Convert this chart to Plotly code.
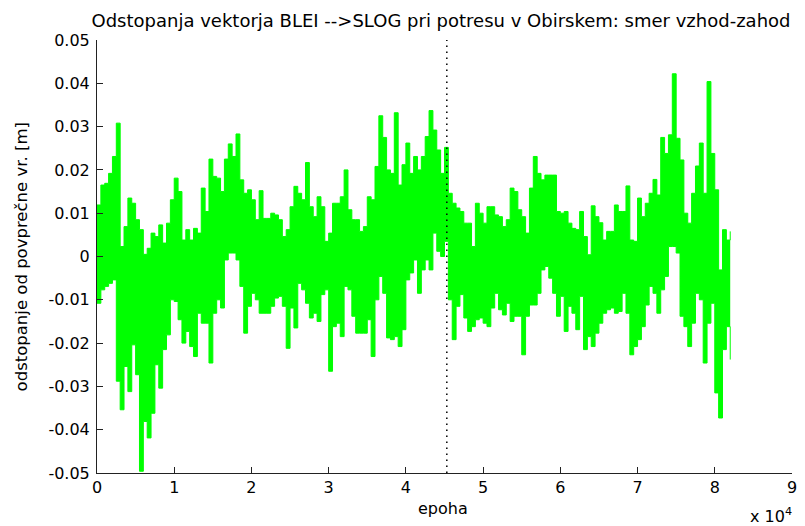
import plotly.graph_objects as go

# epoch grid of the envelope readings (step 500 epochs)
epoha = list(range(0, 82001, 500))

# upper edge of the green band [m], one value per 500 epochs
zgornja = [
    0.0119, 0.0165, 0.0169, 0.0192, 0.0231, 0.0308, 0.0023, 0.0069, 0.0135, 0.0123,
    0.0085, 0.0062, 0.0005, 0.0019, 0.0054, 0.0046, 0.0073, 0.0031, 0.0077, 0.0131,
    0.0181, 0.0150, 0.0038, 0.0062, 0.0038, 0.0065, 0.0054, 0.0158, 0.0104, 0.0225,
    0.0185, 0.0181, 0.0150, 0.0225, 0.0260, 0.0231, 0.0283, 0.0177, 0.0146, 0.0154,
    0.0131, 0.0085, 0.0152, 0.0088, 0.0088, 0.0100, 0.0096, 0.0085, 0.0046, 0.0062,
    0.0115, 0.0162, 0.0146, 0.0131, 0.0217, 0.0115, 0.0092, 0.0138, 0.0115, 0.0035,
    0.0054, 0.0123, 0.0123, 0.0138, 0.0200, 0.0108, 0.0085, 0.0085, 0.0058, 0.0069,
    0.0138, 0.0131, 0.0208, 0.0325, 0.0275, 0.0200, 0.0192, 0.0332, 0.0165, 0.0212,
    0.0262, 0.0192, 0.0231, 0.0200, 0.0231, 0.0277, 0.0337, 0.0292, 0.0246, 0.0192,
    0.0252, 0.0146, 0.0123, 0.0112, 0.0104, 0.0077, 0.0077, 0.0023, 0.0123, 0.0100,
    0.0077, 0.0115, 0.0115, 0.0096, 0.0092, 0.0069, 0.0085, 0.0158, 0.0150, 0.0108,
    0.0092, 0.0054, 0.0158, 0.0231, 0.0192, 0.0177, 0.0188, 0.0188, 0.0188, 0.0104,
    0.0100, 0.0104, 0.0077, 0.0065, 0.0062, 0.0104, 0.0046, 0.0004, 0.0117, 0.0092,
    0.0078, 0.0038, 0.0058, 0.0058, 0.0119, 0.0104, 0.0104, 0.0163, 0.0038, 0.0035,
    0.0135, 0.0092, 0.0123, 0.0146, 0.0178, 0.0142, 0.0275, 0.0238, 0.0281, 0.0422,
    0.0273, 0.0223, 0.0100, 0.0077, 0.0146, 0.0209, 0.0262, 0.0146, 0.0404, 0.0238,
    0.0154, -0.0031, 0.0062, 0.0038, 0.0058,
]

# lower edge of the green band [m]
spodnja = [
    -0.0108, -0.0077, -0.0069, -0.0062, -0.0054, -0.0288, -0.0354, -0.0254, -0.0312, -0.0204,
    -0.0273, -0.0496, -0.0381, -0.0419, -0.0362, -0.0250, -0.0304, -0.0215, -0.0181, -0.0100,
    -0.0104, -0.0146, -0.0200, -0.0173, -0.0208, -0.0231, -0.0131, -0.0154, -0.0154, -0.0246,
    -0.0131, -0.0100, -0.0119, -0.0008, 0.0008, 0.0008, -0.0008, -0.0069, -0.0177, -0.0115,
    -0.0085, -0.0100, -0.0131, -0.0131, -0.0131, -0.0115, -0.0096, -0.0092, -0.0115, -0.0212,
    -0.0119, -0.0165, -0.0062, -0.0077, -0.0108, -0.0142, -0.0131, -0.0150, -0.0088, -0.0077,
    -0.0265, -0.0162, -0.0154, -0.0185, -0.0069, -0.0077, -0.0138, -0.0177, -0.0177, -0.0177,
    -0.0146, -0.0231, -0.0100, -0.0046, -0.0085, -0.0188, -0.0192, -0.0185, -0.0208, -0.0169,
    -0.0054, -0.0038, -0.0008, -0.0085, -0.0031, -0.0008, -0.0031, 0.0054, 0.0012, 0.0000,
    0.0035, -0.0100, -0.0192, -0.0115, -0.0088, -0.0142, -0.0173, -0.0162, -0.0146, -0.0142,
    -0.0154, -0.0162, -0.0119, -0.0085, -0.0123, -0.0135, -0.0108, -0.0150, -0.0138, -0.0138,
    -0.0227, -0.0138, -0.0112, -0.0112, -0.0085, -0.0031, -0.0023, -0.0050, -0.0085, -0.0138,
    -0.0092, -0.0173, -0.0115, -0.0131, -0.0169, -0.0092, -0.0215, -0.0185, -0.0208, -0.0177,
    -0.0154, -0.0131, -0.0123, -0.0119, -0.0131, -0.0127, -0.0085, -0.0131, -0.0227, -0.0208,
    -0.0192, -0.0162, -0.0112, -0.0069, -0.0085, -0.0131, -0.0077, -0.0046, 0.0023, 0.0023,
    0.0008, -0.0138, -0.0162, -0.0208, -0.0154, -0.0085, -0.0100, -0.0246, -0.0154, -0.0108,
    -0.0315, -0.0373, -0.0215, -0.0162, -0.0238,
]

potres_epoha = 45300  # earthquake epoch (dotted line)

x_tiki = [0, 10000, 20000, 30000, 40000, 50000, 60000, 70000, 80000, 90000]
x_tiki_txt = ["0", "1", "2", "3", "4", "5", "6", "7", "8", "9"]
y_tiki = [-0.05, -0.04, -0.03, -0.02, -0.01, 0, 0.01, 0.02, 0.03, 0.04, 0.05]
y_tiki_txt = ["-0.05", "-0.04", "-0.03", "-0.02", "-0.01", "0",
              "0.01", "0.02", "0.03", "0.04", "0.05"]

zelena = "#00ff00"
pisava = dict(family="DejaVu Sans, sans-serif", size=16, color="#000000")

# the page body adds an 8px margin, so the figure is 8px smaller than the window
fig = go.Figure()
fig.add_trace(go.Scatter(x=epoha, y=spodnja, mode="lines",
                         line=dict(color=zelena, width=1, shape="hv"),
                         hoverinfo="skip", showlegend=False))
fig.add_trace(go.Scatter(x=epoha, y=zgornja, mode="lines", fill="tonexty",
                         fillcolor=zelena,
                         line=dict(color=zelena, width=1, shape="hv"),
                         showlegend=False))
fig.add_trace(go.Scatter(x=[potres_epoha, potres_epoha], y=[-0.05, 0.05], mode="lines",
                         line=dict(color="#000000", width=1.5, dash="1.5px,4.5px"),
                         showlegend=False))

fig.update_layout(
    width=797, height=518,
    margin=dict(l=89, r=13, t=32, b=53),
    paper_bgcolor="white", plot_bgcolor="white",
    font=pisava,
    title=dict(text="Odstopanja vektorja BLEI -->SLOG pri potresu v Obirskem: smer vzhod-zahod",
               x=433 / 797, xanchor="center", y=1 - 13 / 518, yanchor="middle",
               font=dict(size=18)),
    xaxis=dict(range=[0, 90000], tickvals=x_tiki, ticktext=x_tiki_txt,
               showgrid=False, zeroline=False, showline=True, linecolor="#222222",
               linewidth=1, ticks="inside", ticklen=6, tickcolor="#222222",
               automargin=False),
    yaxis=dict(range=[-0.05, 0.05], tickvals=y_tiki, ticktext=y_tiki_txt,
               showgrid=False, zeroline=False, showline=True, linecolor="#222222",
               linewidth=1, ticks="inside", ticklen=6, tickcolor="#222222",
               ticklabelstandoff=3, automargin=False),
    annotations=[
        dict(text="epoha", xref="paper", yref="paper", x=0.498, y=-35 / 433,
             xanchor="center", yanchor="middle", showarrow=False),
        dict(text="x 10<sup>4</sup>", xref="paper", yref="paper", x=1.003, y=-42 / 433,
             xanchor="right", yanchor="middle", showarrow=False),
        dict(text="odstopanje od povprečne vr. [m]", xref="paper", yref="paper",
             x=-0.108, y=0.5, textangle=-90, xanchor="center", yanchor="middle",
             showarrow=False, font=dict(size=16.5)),
    ],
)

fig.write_html("out.html")
